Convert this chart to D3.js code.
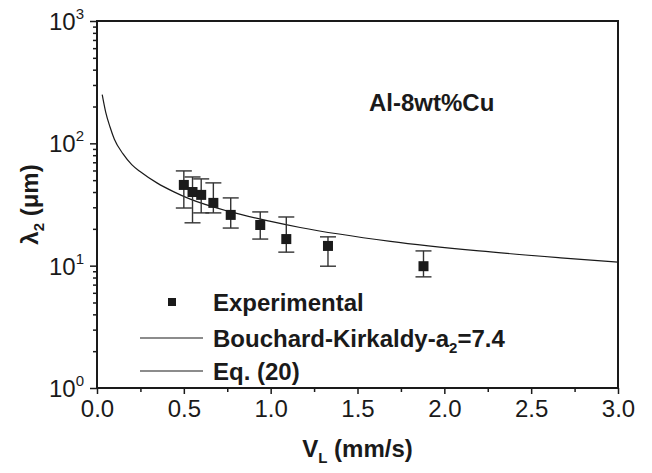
<!DOCTYPE html>
<html>
<head>
<meta charset="utf-8">
<script src="https://cdn.jsdelivr.net/npm/d3@7"></script>
<style>
  body { margin: 0; background: #fff; }
  svg { display: block; font-family: "Liberation Sans", Arial, sans-serif; }
</style>
</head>
<body>
<div id="chart"></div>
<script>
// experimental points: growth rate V_L (mm/s) and spacing lambda_2 (um) with error bars
const expV = [0.50, 0.55, 0.60, 0.67, 0.77, 0.94, 1.09, 1.33, 1.88];
const expLambda = [45.7, 40.0, 37.9, 32.6, 26.0, 21.5, 16.5, 14.5, 9.9];
const expHigh = [59.5, 53.1, 51.2, 47.5, 35.8, 27.5, 25.0, 17.2, 13.2];
const expLow = [29.6, 22.4, 27.0, 27.0, 20.3, 16.5, 12.9, 9.9, 8.1];

// Bouchard-Kirkaldy curve
const curveV = [0.03, 0.05, 0.075, 0.1, 0.15, 0.2, 0.25, 0.345, 0.44, 0.53, 0.77, 1.0, 1.17, 1.69, 2.2, 2.67, 3.0];
const curveLambda = [250, 180, 136, 108, 82, 67, 58.5, 47.5, 40.3, 35.3, 27.5, 23, 20.5, 15.8, 13.2, 11.6, 10.7];

const xMajor = [0, 0.5, 1.0, 1.5, 2.0, 2.5, 3.0];
const xMinor = [0.25, 0.75, 1.25, 1.75, 2.25, 2.75];
const yMajor = [1, 10, 100, 1000];
const yExponents = ["0", "1", "2", "3"];
const yMinor = [];
[1, 10, 100].forEach(d => { for (let k = 2; k <= 9; k++) yMinor.push(d * k); });

const legendLabels = ["Experimental", "Bouchard-Kirkaldy-a", "Eq. (20)"];

const width = 652, height = 473;
const plotLeft = 97, plotRight = 618, plotTop = 21, plotBottom = 388;
const ink = "#1a1a1a";

const svg = d3.select("#chart").append("svg")
    .attr("width", width)
    .attr("height", height);

const x = d3.scaleLinear().domain([0, 3]).range([plotLeft, plotRight]);
const y = d3.scaleLog().domain([1, 1000]).range([plotBottom, plotTop]);

// axes
const xAxis = svg.append("g")
    .attr("transform", `translate(0,${plotBottom})`)
    .call(d3.axisBottom(x).tickValues(xMajor).tickSize(6).tickPadding(6).tickFormat(d3.format(".1f")));
xAxis.selectAll("text")
    .style("font-size", "24px")
    .style("font-family", "Liberation Sans, Arial, sans-serif")
    .attr("fill", ink);

svg.append("g")
    .attr("transform", `translate(0,${plotBottom})`)
    .call(d3.axisBottom(x).tickValues(xMinor).tickSize(4).tickFormat(""));

svg.append("g")
    .attr("transform", `translate(${plotLeft},0)`)
    .call(d3.axisLeft(y).tickValues(yMajor).tickSize(7).tickFormat(""));

svg.append("g")
    .attr("transform", `translate(${plotLeft},0)`)
    .call(d3.axisLeft(y).tickValues(yMinor).tickSize(4).tickFormat(""));

svg.selectAll(".domain").remove();
svg.selectAll(".tick line").attr("stroke", ink).attr("stroke-width", 1.5);

// y tick labels as 10^n
const yLab = svg.append("g").selectAll("text")
    .data(yMajor)
    .enter().append("text")
    .attr("x", plotLeft - 13)
    .attr("y", d => y(d) + 9)
    .attr("text-anchor", "end")
    .style("font-size", "24px")
    .attr("fill", ink);
yLab.append("tspan").text("10");
yLab.append("tspan")
    .attr("dy", -11)
    .style("font-size", "15px")
    .text((d, i) => yExponents[i]);

// frame
svg.append("rect")
    .attr("x", plotLeft)
    .attr("y", plotTop)
    .attr("width", plotRight - plotLeft)
    .attr("height", plotBottom - plotTop)
    .attr("fill", "none")
    .attr("stroke", ink)
    .attr("stroke-width", 2);

// axis titles
const xt = svg.append("text")
    .attr("x", (plotLeft + plotRight) / 2)
    .attr("y", 457)
    .attr("text-anchor", "middle")
    .style("font-size", "24px")
    .style("font-weight", "bold")
    .attr("fill", ink);
xt.append("tspan").text("V");
xt.append("tspan").attr("dy", 6).style("font-size", "15px").text("L");
xt.append("tspan").attr("dy", -6).text(" (mm/s)");

const yt = svg.append("text")
    .attr("transform", `translate(38,${(plotTop + plotBottom) / 2}) rotate(-90)`)
    .attr("text-anchor", "middle")
    .style("font-size", "24px")
    .style("font-weight", "bold")
    .attr("fill", ink);
yt.append("tspan").text("λ");
yt.append("tspan").attr("dy", 6).style("font-size", "15px").text("2");
yt.append("tspan").attr("dy", -6).text(" (μm)");

// curve
const curveData = curveV.map((v, i) => [v, curveLambda[i]]);
svg.append("path")
    .datum(curveData)
    .attr("fill", "none")
    .attr("stroke", ink)
    .attr("stroke-width", 1.2)
    .attr("d", d3.line().x(d => x(d[0])).y(d => y(d[1])).curve(d3.curveMonotoneX));

// error bars
const pts = expV.map((v, i) => ({v: v, l: expLambda[i], hi: expHigh[i], lo: expLow[i]}));
const bars = svg.append("g").attr("stroke", "#333").attr("stroke-width", 1.4);
bars.selectAll(".stem").data(pts).enter().append("line")
    .attr("x1", d => x(d.v)).attr("x2", d => x(d.v))
    .attr("y1", d => y(d.hi)).attr("y2", d => y(d.lo));
bars.selectAll(".capHi").data(pts).enter().append("line")
    .attr("x1", d => x(d.v) - 8).attr("x2", d => x(d.v) + 8)
    .attr("y1", d => y(d.hi)).attr("y2", d => y(d.hi));
bars.selectAll(".capLo").data(pts).enter().append("line")
    .attr("x1", d => x(d.v) - 8).attr("x2", d => x(d.v) + 8)
    .attr("y1", d => y(d.lo)).attr("y2", d => y(d.lo));

// markers
svg.selectAll(".points").data(pts).enter().append("rect")
    .attr("class", "points")
    .attr("x", d => x(d.v) - 5)
    .attr("y", d => y(d.l) - 5)
    .attr("width", 10)
    .attr("height", 10)
    .attr("fill", ink);

// annotation
svg.append("text")
    .attr("x", 369)
    .attr("y", 111)
    .style("font-size", "24px")
    .style("font-weight", "bold")
    .attr("fill", ink)
    .text("Al-8wt%Cu");

// legend
const legendY = [302, 338, 371];
svg.append("rect")
    .attr("x", 168).attr("y", legendY[0] - 4)
    .attr("width", 8).attr("height", 8)
    .attr("fill", ink);
[1, 2].forEach(i => {
    svg.append("line")
        .attr("x1", 140).attr("x2", 203)
        .attr("y1", legendY[i]).attr("y2", legendY[i])
        .attr("stroke", ink).attr("stroke-width", 1.2);
});
legendLabels.forEach((t, i) => {
    const lt = svg.append("text")
        .attr("x", 213)
        .attr("y", legendY[i] + 9)
        .style("font-size", "24px")
        .style("font-weight", "bold")
        .attr("fill", ink)
        .text(t);
    if (i === 1) {
        lt.append("tspan").attr("dy", 6).style("font-size", "15px").text("2");
        lt.append("tspan").attr("dy", -6).text("=7.4");
    }
});
</script>
</body>
</html>
